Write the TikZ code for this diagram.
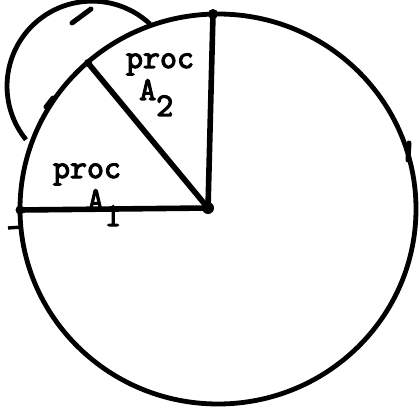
\documentclass[tikz,border=0pt]{standalone}
\usepackage{fontspec}
\usepackage{tikz}

\newfontfamily\typer{Latin Modern Mono}[FakeBold=3.4]
\tikzset{
  rim/.style={line width=4.8pt},
  spoke/.style={line width=5.6pt, line cap=round},
  nick/.style={line width=5pt, line cap=round},
  lbl/.style={font=\fontsize{33}{33}\selectfont\typer\bfseries, inner sep=0pt},
}
\newcommand{\lowsub}[1]{\raisebox{-16pt}{#1}}

\begin{document}
\begin{tikzpicture}[x=1pt,y=1pt]
  \useasboundingbox (0,0) rectangle (419,413);
  % points of the wheel
  \coordinate (hub) at (208,205);
  \coordinate (west) at (20,203);
  \coordinate (north) at (213,399);
  \coordinate (cut) at (88,350);
  \coordinate (bulge) at (150,389);
  % labels
  \node[lbl, anchor=base] (procA) at (87,235) {proc};
  \node[lbl, anchor=base west] (nameA) at (87,203) {A\lowsub{1}};
  \node[lbl, anchor=base] (procB) at (160,345) {proc};
  \node[lbl, anchor=base west] (nameB) at (139,313) {A\lowsub{2}};
  % the wheel and the extra loop
  \draw[rim] (218,204) ellipse [x radius=198, y radius=195];
  \draw[rim] (bulge) arc [start angle=47, end angle=219, radius=85];
  % spokes
  \draw[spoke] (hub) -- (west);
  \draw[spoke] (hub) -- (north);
  \draw[spoke] (hub) -- (cut);
  \fill (hub) circle (6);
  \fill (west) circle (4.5);
  \fill (north) circle (5);
  \fill (cut) circle (4);
  % pen marks
  \draw[nick] (72,390) -- (91,404);
  \draw[nick] (46,306) -- (53,315);
  \draw[nick] (408,253) -- (409,270);
  \draw[line width=3.4pt] (8,185) -- (22,186);
\end{tikzpicture}
\end{document}
